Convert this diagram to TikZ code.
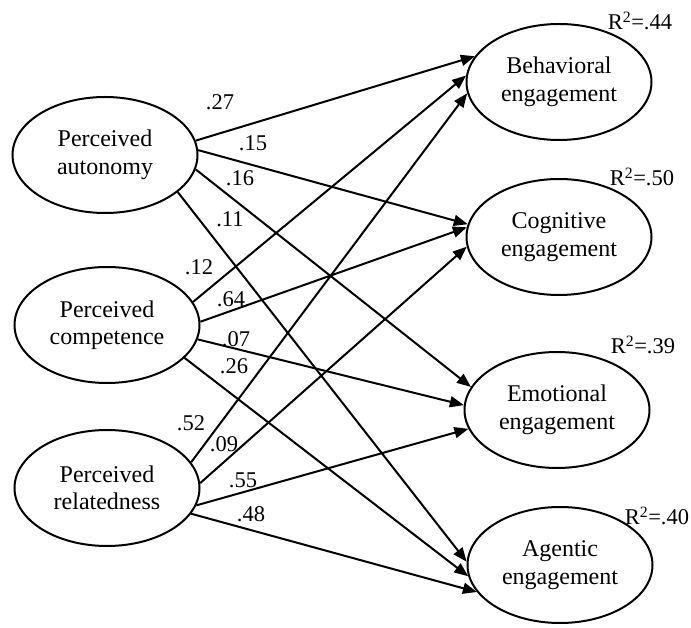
\documentclass[tikz,border=0pt]{standalone}
\usepackage{fontspec}
\setmainfont{Liberation Serif}
\usetikzlibrary{shapes.geometric,arrows.meta}
\begin{document}
\begin{tikzpicture}[x=1pt,y=1pt,
  latent/.style={ellipse,draw,line width=2pt,minimum width=185pt,minimum height=116pt,inner sep=0pt,align=center,font=\fontsize{24}{27.5}\selectfont},
  arr/.style={line width=2pt,-{Triangle[length=14pt,width=11pt]}},
  coef/.style={inner sep=0pt,font=\fontsize{22.5}{26}\selectfont},
]
\useasboundingbox (0,0) rectangle (691,627);
\node[latent] (aut) at (105,472) {Perceived\\autonomy};
\node[latent] (com) at (107,302) {Perceived\\competence};
\node[latent] (rel) at (107,139) {Perceived\\relatedness};
\node[latent] (beh) at (559,545) {Behavioral\\engagement};
\node[latent] (cog) at (559,390) {Cognitive\\engagement};
\node[latent] (emo) at (557,217) {Emotional\\engagement};
\node[latent] (age) at (560,62) {Agentic\\engagement};

\draw[arr] (aut.9.5) -- (beh.163);
\draw[arr] (aut.3.7) -- (cog.172);
\draw[arr] (aut.351) -- (emo.165);
\draw[arr] (aut.333) -- (age.178);
\draw[arr] (com.15) -- (beh.176);
\draw[arr] (com.2) -- (cog.174);
\draw[arr] (com.351) -- (emo.177);
\draw[arr] (com.337) -- (age.187);
\draw[arr] (rel.17) -- (beh.187);
\draw[arr] (rel.3) -- (cog.186);
\draw[arr] (rel.349) -- (emo.192);
\draw[arr] (rel.343) -- (age.198);

\node[coef] (c1) at (220,525) {.27};
\node[coef] (c2) at (253,484) {.15};
\node[coef] (c3) at (240,449) {.16};
\node[coef] (c4) at (230,408) {.11};
\node[coef] (c5) at (199,360) {.12};
\node[coef] (c6) at (231,328) {.64};
\node[coef] (c7) at (236,288) {.07};
\node[coef] (c8) at (234,261) {.26};
\node[coef] (c9) at (191,204) {.52};
\node[coef] (c10) at (224,183) {.09};
\node[coef] (c11) at (243,147) {.55};
\node[coef] (c12) at (251,113) {.48};

\node[coef] (r1) at (640,606) {R\textsuperscript{2}=.44};
\node[coef] (r2) at (642,450) {R\textsuperscript{2}=.50};
\node[coef] (r3) at (643,282) {R\textsuperscript{2}=.39};
\node[coef] (r4) at (657,111) {R\textsuperscript{2}=.40};
\end{tikzpicture}
\end{document}
